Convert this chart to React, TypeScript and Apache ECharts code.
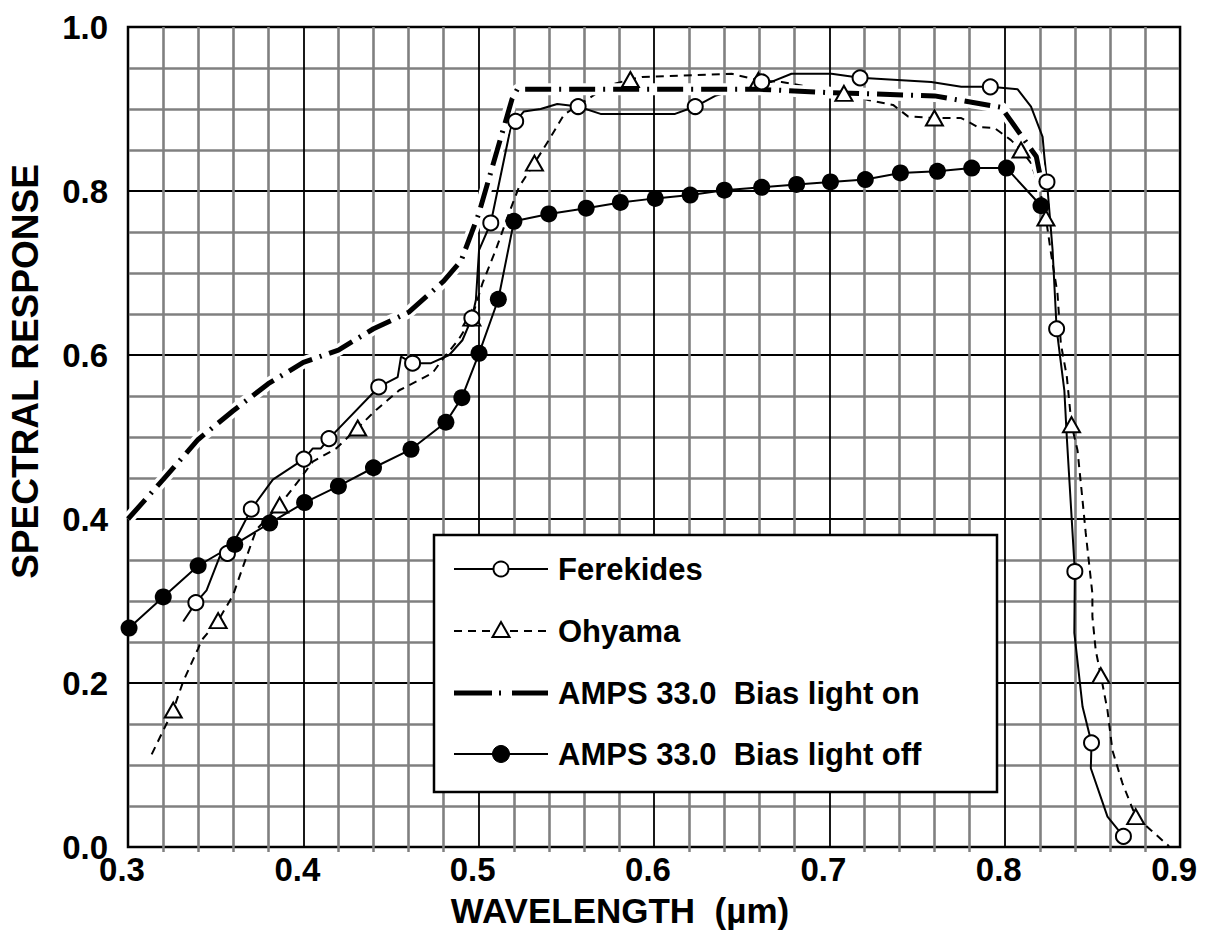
import React, { useEffect, useRef } from "react";
import * as echarts from "echarts";

const X_TICK_LABELS = ["0.3", "0.4", "0.5", "0.6", "0.7", "0.8", "0.9"];
const Y_TICK_LABELS = ["0.0", "0.2", "0.4", "0.6", "0.8", "1.0"];
const X_TITLE = "WAVELENGTH  (µm)";
const Y_TITLE = "SPECTRAL RESPONSE";
const SERIES_NAMES = [
  "Ferekides",
  "Ohyama",
  "AMPS 33.0  Bias light on",
  "AMPS 33.0  Bias light off",
];

// Ferekides (open circles, solid thin line); mark = 1 where a circle is drawn
const ferekidesX = [
  0.3315, 0.3387, 0.3448, 0.3523, 0.3567, 0.364, 0.3703, 0.3826, 0.4003, 0.4054,
  0.41, 0.4146, 0.443, 0.4538, 0.4557, 0.4623, 0.4728, 0.4832, 0.4907, 0.4961,
  0.4984, 0.5002, 0.5069, 0.5183, 0.5211, 0.5258, 0.5353, 0.5448, 0.5567, 0.5695,
  0.612, 0.6235, 0.6349, 0.6614, 0.6669, 0.6784, 0.7012, 0.7175, 0.7581, 0.7752,
  0.7918, 0.8074, 0.815, 0.8216, 0.8226, 0.8241, 0.8273, 0.8296, 0.834, 0.8354,
  0.84, 0.8397, 0.8444, 0.8495, 0.8491, 0.8586, 0.8677,
];
const ferekidesY = [
  0.275, 0.298, 0.313, 0.354, 0.358, 0.386, 0.412, 0.448, 0.473, 0.486,
  0.486, 0.498, 0.561, 0.573, 0.598, 0.59, 0.59, 0.6, 0.618, 0.645,
  0.667, 0.728, 0.761, 0.878, 0.885, 0.897, 0.9, 0.906, 0.903, 0.894,
  0.894, 0.903, 0.916, 0.933, 0.933, 0.943, 0.943, 0.938, 0.933, 0.927,
  0.927, 0.924, 0.903, 0.866, 0.842, 0.811, 0.728, 0.632, 0.557, 0.5,
  0.336, 0.261, 0.171, 0.127, 0.096, 0.037, 0.013,
];
const ferekidesMark = [
  0, 1, 0, 0, 1, 0, 1, 0, 1, 0,
  0, 1, 1, 0, 0, 1, 0, 0, 0, 1,
  0, 0, 1, 0, 1, 0, 0, 0, 1, 0,
  0, 1, 0, 1, 0, 0, 0, 1, 0, 0,
  1, 0, 0, 0, 0, 1, 0, 1, 0, 0,
  1, 0, 0, 1, 0, 0, 1,
];

// Ohyama (open triangles, dashed thin line)
const ohyamaX = [
  0.3135, 0.3258, 0.3315, 0.34, 0.3419, 0.3514, 0.3599, 0.3656, 0.3732, 0.3865,
  0.3978, 0.4054, 0.4187, 0.431, 0.4415, 0.4547, 0.4737, 0.4784, 0.4889, 0.4961,
  0.5021, 0.5097, 0.5173, 0.523, 0.5318, 0.54, 0.5486, 0.5742, 0.5865, 0.5931,
  0.6443, 0.6595, 0.6728, 0.7083, 0.7221, 0.7363, 0.7448, 0.7599, 0.7752, 0.7847,
  0.7941, 0.8036, 0.8093, 0.815, 0.8197, 0.8235, 0.8264, 0.8301, 0.832, 0.8354,
  0.8381, 0.8415, 0.8434, 0.8462, 0.85, 0.85, 0.8519, 0.8548, 0.8586, 0.8614,
  0.8671, 0.8747, 0.8831, 0.8937,
];
const ohyamaY = [
  0.113, 0.167, 0.202, 0.242, 0.252, 0.276, 0.307, 0.342, 0.387, 0.417,
  0.448, 0.47, 0.486, 0.511, 0.533, 0.557, 0.578, 0.592, 0.62, 0.645,
  0.687, 0.728, 0.773, 0.805, 0.834, 0.862, 0.893, 0.929, 0.936, 0.939,
  0.943, 0.935, 0.933, 0.919, 0.911, 0.905, 0.891, 0.889, 0.889, 0.878,
  0.877, 0.862, 0.85, 0.834, 0.805, 0.767, 0.724, 0.675, 0.614, 0.574,
  0.515, 0.484, 0.444, 0.383, 0.309, 0.281, 0.24, 0.209, 0.167, 0.118,
  0.078, 0.037, 0.021, 0.001,
];
const ohyamaMark = [
  0, 1, 0, 0, 0, 1, 0, 0, 0, 1,
  0, 0, 0, 1, 0, 0, 0, 0, 0, 1,
  0, 0, 0, 0, 1, 0, 0, 0, 1, 0,
  0, 1, 0, 1, 0, 0, 0, 1, 0, 0,
  0, 0, 1, 0, 0, 1, 0, 0, 0, 0,
  1, 0, 0, 0, 0, 0, 0, 1, 0, 0,
  0, 1, 0, 0,
];

// AMPS 33.0 Bias light on (thick dash-dot)
const biasOnX = [
  0.3, 0.32, 0.34, 0.36, 0.38, 0.4, 0.42, 0.44, 0.46, 0.48, 0.49,
  0.5, 0.519, 0.522, 0.56, 0.6, 0.66, 0.7, 0.76, 0.798, 0.818, 0.822,
];
const biasOnY = [
  0.4, 0.448, 0.497, 0.532, 0.565, 0.591, 0.606, 0.632, 0.652, 0.69, 0.715,
  0.772, 0.912, 0.924, 0.924, 0.924, 0.924, 0.92, 0.916, 0.902, 0.842, 0.8,
];

// AMPS 33.0 Bias light off (filled circles)
const biasOffX = [
  0.3006, 0.3201, 0.34, 0.3609, 0.3808, 0.4007, 0.42, 0.44, 0.4614, 0.4813,
  0.4904, 0.5002, 0.5112, 0.5201, 0.54, 0.5613, 0.5808, 0.6007, 0.6206, 0.6401,
  0.6614, 0.6813, 0.7006, 0.7205, 0.7405, 0.7616, 0.7812, 0.801, 0.8207,
];
const biasOffY = [
  0.267, 0.305, 0.343, 0.369, 0.395, 0.42, 0.44, 0.4625, 0.485, 0.518,
  0.548, 0.602, 0.668, 0.763, 0.772, 0.779, 0.786, 0.791, 0.795, 0.801,
  0.8045, 0.808, 0.811, 0.814, 0.822, 0.824, 0.828, 0.828, 0.782,
];

const FONT = '"Liberation Sans", Arial, Helvetica, sans-serif';
const BIAS_ON_DASH = [26, 8, 2, 8];
const OHYAMA_DASH = [8, 6];

function pairs(xs: number[], ys: number[]) {
  return xs.map((x, i) => [x, ys[i]]);
}

function markedData(xs: number[], ys: number[], marks: number[], symbol: string) {
  return xs.map((x, i) =>
    marks[i] ? { value: [x, ys[i]], symbol } : { value: [x, ys[i]], symbol: "none" }
  );
}

export default function App() {
  const ref = useRef<HTMLDivElement>(null);

  useEffect(() => {
    if (!ref.current) return;
    const chart = echarts.init(ref.current, undefined, { renderer: "svg" });

    const legendLeft = 434;
    const legendTop = 535;
    const rowsY = [569, 631, 693, 754];
    const lx1 = 454;
    const lx2 = 548;
    const mx = 501;
    const tx = 558;
    const legendText = (i: number) => ({
      type: "text",
      x: tx,
      y: rowsY[i],
      style: {
        text: SERIES_NAMES[i],
        fontFamily: FONT,
        fontWeight: "bold",
        fontSize: 31,
        fill: "#000",
        align: "left",
        verticalAlign: "middle",
      },
    });

    const graphic: any[] = [
      {
        type: "rect",
        shape: { x: legendLeft, y: legendTop, width: 563, height: 257 },
        style: { fill: "#fff", stroke: "#000", lineWidth: 2.5 },
        z: 100,
      },
      {
        type: "line",
        shape: { x1: lx1, y1: rowsY[0], x2: lx2, y2: rowsY[0] },
        style: { stroke: "#000", lineWidth: 2 },
        z: 101,
      },
      {
        type: "circle",
        shape: { cx: mx, cy: rowsY[0], r: 7.5 },
        style: { fill: "#fff", stroke: "#000", lineWidth: 2 },
        z: 102,
      },
      {
        type: "line",
        shape: { x1: lx1, y1: rowsY[1], x2: lx2, y2: rowsY[1] },
        style: { stroke: "#000", lineWidth: 2, lineDash: OHYAMA_DASH },
        z: 101,
      },
      {
        type: "polygon",
        shape: {
          points: [
            [mx, rowsY[1] - 9],
            [mx + 8.5, rowsY[1] + 6],
            [mx - 8.5, rowsY[1] + 6],
          ],
        },
        style: { fill: "#fff", stroke: "#000", lineWidth: 2 },
        z: 102,
      },
      {
        type: "line",
        shape: { x1: lx1, y1: rowsY[2], x2: lx2, y2: rowsY[2] },
        style: { stroke: "#000", lineWidth: 5, lineDash: [38, 7, 2, 11] },
        z: 101,
      },
      {
        type: "line",
        shape: { x1: lx1, y1: rowsY[3], x2: lx2, y2: rowsY[3] },
        style: { stroke: "#000", lineWidth: 2 },
        z: 101,
      },
      {
        type: "circle",
        shape: { cx: mx, cy: rowsY[3], r: 8.5 },
        style: { fill: "#000", stroke: "#000", lineWidth: 1 },
        z: 102,
      },
      { ...legendText(0), z: 103 },
      { ...legendText(1), z: 103 },
      { ...legendText(2), z: 103 },
      { ...legendText(3), z: 103 },
      {
        type: "text",
        x: 620,
        y: 910,
        style: {
          text: X_TITLE,
          fontFamily: FONT,
          fontWeight: "bold",
          fontSize: 35,
          fill: "#000",
          align: "center",
          verticalAlign: "middle",
        },
      },
      {
        type: "text",
        x: 25.5,
        y: 371.5,
        rotation: Math.PI / 2,
        style: {
          text: Y_TITLE,
          fontFamily: FONT,
          fontWeight: "bold",
          fontSize: 37,
          fill: "#000",
          align: "center",
          verticalAlign: "middle",
        },
      },
    ];

    const option: any = {
      animation: false,
      backgroundColor: "#fff",
      grid: {
        left: 128,
        top: 27,
        right: 28,
        bottom: 97,
        show: true,
        borderColor: "#000",
        borderWidth: 2.5,
        backgroundColor: "#fff",
      },
      xAxis: {
        type: "value",
        min: 0.3,
        max: 0.9,
        interval: 0.1,
        axisLine: { show: false },
        axisTick: { show: false },
        minorTick: {
          show: true,
          splitNumber: 5,
          length: 5,
          lineStyle: { color: "#808080", width: 2.5 },
        },
        splitLine: { show: true, lineStyle: { color: "#000", width: 1.8 } },
        minorSplitLine: { show: true, lineStyle: { color: "#808080", width: 2.6 } },
        axisLabel: {
          margin: 7,
          color: "#000",
          fontFamily: FONT,
          fontWeight: "bold",
          fontSize: 33,
          lineHeight: 30,
          padding: [0, 12, 0, 0],
          formatter: (v: number) => X_TICK_LABELS[Math.round((v - 0.3) / 0.1)] ?? "",
        },
      },
      yAxis: {
        type: "value",
        min: 0,
        max: 1,
        interval: 0.2,
        axisLine: { show: false },
        axisTick: { show: false },
        minorTick: { show: false, splitNumber: 4 },
        splitLine: { show: true, lineStyle: { color: "#000", width: 1.8 } },
        minorSplitLine: { show: true, lineStyle: { color: "#808080", width: 2.6 } },
        axisLabel: {
          margin: 20,
          color: "#000",
          fontFamily: FONT,
          fontWeight: "bold",
          fontSize: 33,
          padding: [0, 0, 9, 0],
          formatter: (v: number) => Y_TICK_LABELS[Math.round(v / 0.2)] ?? "",
        },
      },
      graphic,
      series: [
        {
          name: SERIES_NAMES[1],
          type: "line",
          data: markedData(ohyamaX, ohyamaY, ohyamaMark, "triangle"),
          showSymbol: true,
          symbolSize: [17, 15],
          lineStyle: { color: "#000", width: 2, type: OHYAMA_DASH },
          itemStyle: { color: "#fff", borderColor: "#000", borderWidth: 2 },
        },
        {
          name: SERIES_NAMES[0],
          type: "line",
          data: markedData(ferekidesX, ferekidesY, ferekidesMark, "circle"),
          showSymbol: true,
          symbolSize: 15,
          lineStyle: { color: "#000", width: 2 },
          itemStyle: { color: "#fff", borderColor: "#000", borderWidth: 2 },
        },
        {
          name: "bias-on-halo",
          type: "line",
          data: pairs(biasOnX, biasOnY),
          showSymbol: false,
          lineStyle: { color: "#fff", width: 12 },
        },
        {
          name: SERIES_NAMES[2],
          type: "line",
          data: pairs(biasOnX, biasOnY),
          showSymbol: false,
          lineStyle: { color: "#000", width: 5, type: BIAS_ON_DASH },
        },
        {
          name: SERIES_NAMES[3],
          type: "line",
          data: pairs(biasOffX, biasOffY),
          symbol: "circle",
          symbolSize: 17,
          showSymbol: true,
          lineStyle: { color: "#000", width: 2 },
          itemStyle: { color: "#000" },
        },
      ],
    };

    chart.setOption(option);
    return () => chart.dispose();
  }, []);

  return (
    <div
      ref={ref}
      style={{ position: "absolute", left: 0, top: 0, width: 1212, height: 944 }}
    />
  );
}
